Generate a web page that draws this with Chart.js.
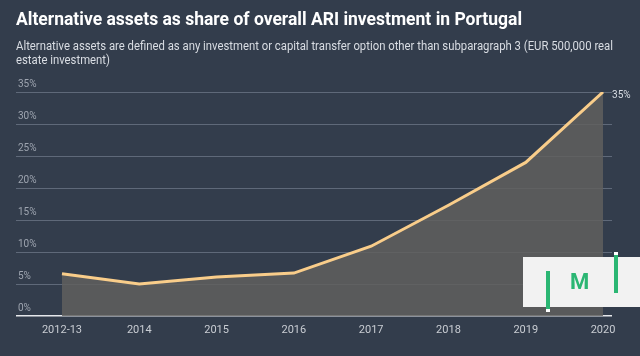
<!DOCTYPE html>
<html>
<head>
<meta charset="utf-8">
<script src="https://cdn.jsdelivr.net/npm/chart.js@4.4.1/dist/chart.umd.min.js"></script>
<style>
  html, body { margin: 0; padding: 0; background: #333d4c; }
  #wrap { position: relative; width: 640px; height: 356px; overflow: hidden; background: #333d4c; font-family: Roboto, "Noto Sans", sans-serif; }
  #c { position: absolute; left: 0; top: 0; }
  #title { position: absolute; left: 16px; top: 9px; color: #ffffff; font-weight: 700; font-size: 17.5px; white-space: nowrap; }
  #sub { position: absolute; left: 16px; top: 40px; width: 648px; color: #d9dde3; font-size: 12px; line-height: 13.5px; transform: scaleX(0.943); transform-origin: 0 0; }
  #logo { position: absolute; left: 523px; top: 257px; width: 117px; height: 50px; background: #f2f2f2; }
  .bar { position: absolute; width: 4px; background: #2bb673; }
  .tip { position: absolute; width: 4px; height: 3px; background: #ffffff; }
  #m { position: absolute; left: 570px; top: 270px; color: #2bb673; font-weight: 700; font-size: 22px; line-height: 24px; }
</style>
</head>
<body>
<div id="wrap">
  <canvas id="c" width="640" height="356"></canvas>
  <div id="title">Alternative assets as share of overall ARI investment in Portugal</div>
  <div id="sub">Alternative assets are defined as any investment or capital transfer option other than subparagraph 3 (EUR 500,000 real estate investment)</div>
  <div id="logo"></div>
  <div class="bar" style="left:546px;top:271px;height:39px;"></div>
  <div class="tip" style="left:546px;top:309px;"></div>
  <div id="m">M</div>
  <div class="bar" style="left:614px;top:255px;height:38px;"></div>
  <div class="tip" style="left:614px;top:252px;"></div>
</div>
<script>
const categories = ["2012-13", "2014", "2015", "2016", "2017", "2018", "2019", "2020"];
const shareValues = [6.6, 5.0, 6.1, 6.7, 10.9, 17.3, 24.0, 35.0];
const yTickValues = [0, 5, 10, 15, 20, 25, 30, 35];

const lastLabel = {
  id: 'lastLabel',
  afterDatasetsDraw(chart) {
    const meta = chart.getDatasetMeta(0);
    const pt = meta.data[meta.data.length - 1];
    const ctx = chart.ctx;
    ctx.save();
    ctx.font = '10px Roboto';
    ctx.fillStyle = '#d9dde3';
    ctx.textAlign = 'left';
    ctx.textBaseline = 'middle';
    ctx.fillText(shareValues[shareValues.length - 1] + '%', pt.x + 9, pt.y + 3);
    ctx.restore();
  }
};

new Chart(document.getElementById('c'), {
  type: 'line',
  data: {
    datasets: [{
      data: shareValues.map((v, i) => ({ x: i, y: v })),
      borderColor: '#f9cd8a',
      borderWidth: 3,
      backgroundColor: 'rgba(96,95,94,0.84)',
      fill: 'origin',
      pointRadius: 0,
      tension: 0
    }]
  },
  options: {
    responsive: false,
    animation: false,
    layout: { padding: { left: 16, right: 28, top: 92, bottom: 0 } },
    plugins: { legend: { display: false }, tooltip: { enabled: false } },
    scales: {
      x: {
        type: 'linear',
        min: -0.595,
        max: 7.116,
        afterBuildTicks: (s) => { s.ticks = categories.map((c, i) => ({ value: i })); },
        afterFit: (s) => { s.height = 40; },
        grid: { display: false },
        border: { display: false },
        ticks: {
          color: '#c9cdd3',
          font: { family: 'Roboto', size: 11 },
          padding: 0,
          maxRotation: 0,
          autoSkip: false,
          callback: (v) => categories[v]
        }
      },
      y: {
        min: 0,
        max: 35,
        afterBuildTicks: (s) => { s.ticks = yTickValues.map(v => ({ value: v })); },
        afterFit: (s) => { s.width = 0; },
        border: { display: false },
        grid: {
          drawTicks: false,
          color: (c) => c.tick && c.tick.value === 0 ? '#e6e8eb' : '#5f6979',
          lineWidth: (c) => c.tick && c.tick.value === 0 ? 1.5 : 1
        },
        ticks: {
          mirror: true,
          padding: 2,
          labelOffset: -8,
          color: '#9ea5b0',
          font: { family: 'Roboto', size: 10 },
          callback: (v) => v + '%'
        }
      }
    }
  },
  plugins: [lastLabel]
});
</script>
</body>
</html>
